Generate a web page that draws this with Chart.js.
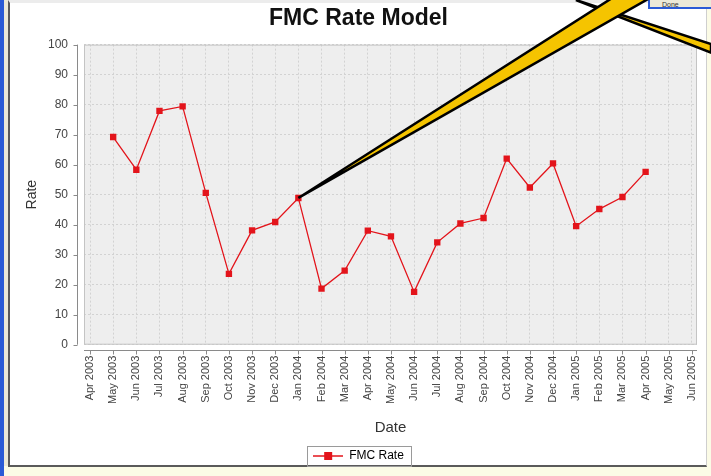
<!DOCTYPE html>
<html>
<head>
<meta charset="utf-8">
<script src="https://cdn.jsdelivr.net/npm/chart.js@4"></script>
<style>
  html, body { margin: 0; padding: 0; }
  body { width: 711px; height: 476px; position: relative; overflow: hidden; background: #fbfbe6; font-family: "Liberation Sans", Arial, sans-serif; }
  #blue { position: absolute; left: 0; top: 0; width: 4px; height: 476px; background: #2b5bd6; }
  #beige { position: absolute; left: 4px; top: 0; width: 4px; height: 466px; background: #ece9d8; }
  #panel { position: absolute; left: 8px; top: 0; width: 699px; height: 467px; background: #fff;
           border-left: 2px solid #5a5a5a; border-bottom: 2px solid #5a5a5a; border-right: 1px solid #cfcfcf; border-top: 3px solid #ececec; box-sizing: border-box; }
  #status { position: absolute; left: 648px; top: 0; width: 63px; height: 9px; background: #ece9d8;
            border-left: 2px solid #2b5bd6; border-bottom: 2px solid #2b5bd6; font-size: 7px; line-height: 9px; color: #333; padding-left: 12px; box-sizing: border-box; }
  #wrap { position: absolute; left: 0; top: 0; width: 711px; height: 476px; }
</style>
</head>
<body>
<div id="blue"></div>
<div id="beige"></div>
<div id="panel"></div>
<div id="status">Done</div>
<div id="wrap"><canvas id="rateChart" width="711" height="476"></canvas></div>
<script>
// Months on the date axis (Apr 2003 .. Jun 2005)
const months = ['Apr 2003', 'May 2003', 'Jun 2003', 'Jul 2003', 'Aug 2003', 'Sep 2003', 'Oct 2003',
    'Nov 2003', 'Dec 2003', 'Jan 2004', 'Feb 2004', 'Mar 2004', 'Apr 2004', 'May 2004', 'Jun 2004',
    'Jul 2004', 'Aug 2004', 'Sep 2004', 'Oct 2004', 'Nov 2004', 'Dec 2004', 'Jan 2005', 'Feb 2005',
    'Mar 2005', 'Apr 2005', 'May 2005', 'Jun 2005'];

// FMC Rate values, one per month (no data for Apr 2003, May 2005, Jun 2005)
const fmcRate = [null, 69.2, 58.3, 77.9, 79.4, 50.6, 23.6, 38.1, 40.9, 48.9, 18.7, 24.7, 38.0,
    36.1, 17.6, 34.1, 40.4, 42.2, 62.0, 52.4, 60.4, 39.5, 45.2, 49.2, 57.6, null, null];

const rateTicks = [0, 10, 20, 30, 40, 50, 60, 70, 80, 90, 100];

// callout arrow points at this month
const calloutMonth = 'Jan 2004';

const red = '#e3141b';
const font = '"Liberation Sans", Arial, sans-serif';

// legend marker: line with square
const legendMarker = document.createElement('canvas');
legendMarker.width = 30;
legendMarker.height = 10;
(() => {
    const c = legendMarker.getContext('2d');
    c.strokeStyle = red;
    c.lineWidth = 1.5;
    c.beginPath();
    c.moveTo(0, 5);
    c.lineTo(30, 5);
    c.stroke();
    c.fillStyle = red;
    c.fillRect(11, 1, 8, 8);
})();

const plotBackground = {
    id: 'plotBackground',
    beforeDraw(chart) {
        const { ctx, chartArea: a } = chart;
        ctx.save();
        ctx.fillStyle = '#eeeeee';
        ctx.fillRect(a.left, a.top, a.right - a.left, a.bottom - a.top);
        ctx.restore();
    },
    afterDatasetsDraw(chart) {
        const { ctx, chartArea: a, scales } = chart;
        ctx.save();
        ctx.strokeStyle = '#c4c4c4';
        ctx.lineWidth = 1;
        ctx.strokeRect(a.left + 0.5, a.top + 0.5, a.right - a.left - 1, a.bottom - a.top - 1);

        // offset axis lines with tick marks
        ctx.strokeStyle = '#8a8a8a';
        const ax = Math.round(a.left - 7) + 0.5;
        const ay = Math.round(a.bottom + 5) + 0.5;
        ctx.beginPath();
        ctx.moveTo(ax, a.top);
        ctx.lineTo(ax, a.bottom);
        scales.y.ticks.forEach(t => {
            const py = Math.round(scales.y.getPixelForValue(t.value)) + 0.5;
            ctx.moveTo(ax - 4, py);
            ctx.lineTo(ax, py);
        });
        ctx.moveTo(a.left, ay);
        ctx.lineTo(a.right, ay);
        scales.x.ticks.forEach(t => {
            const px = Math.round(scales.x.getPixelForValue(t.value)) + 0.5;
            ctx.moveTo(px, ay);
            ctx.lineTo(px, ay + 4);
        });
        ctx.stroke();

        // legend frame
        const box = chart.legend.legendHitBoxes[0];
        if (box) {
            ctx.strokeStyle = '#9a9a9a';
            ctx.strokeRect(Math.round(box.left - 6) + 0.5, Math.round(box.top + box.height / 2 - 10) + 0.5,
                Math.round(box.width + 13), 20);
        }
        ctx.restore();
    },
    afterDraw(chart) {
        // yellow callout arrow from the screenshot
        const { ctx, scales, width } = chart;
        const i = months.indexOf(calloutMonth);
        const px = scales.x.getPixelForValue(i);
        const py = scales.y.getPixelForValue(fmcRate[i]);
        ctx.save();
        ctx.lineJoin = 'miter';
        ctx.fillStyle = '#f5c400';
        ctx.strokeStyle = '#000';
        ctx.lineWidth = 2.5;
        ctx.beginPath();
        ctx.moveTo(width * 0.81, 0);
        ctx.lineTo(width, width * 0.062);
        ctx.lineTo(width, width * 0.074);
        ctx.closePath();
        ctx.fill();
        ctx.stroke();
        ctx.beginPath();
        ctx.moveTo(px, py);
        ctx.lineTo(width * 0.861, -2);
        ctx.lineTo(width * 0.914, -2);
        ctx.closePath();
        ctx.fill();
        ctx.stroke();
        ctx.restore();
    }
};

const ctx = document.getElementById('rateChart').getContext('2d');
new Chart(ctx, {
    type: 'line',
    data: {
        datasets: [{
            label: 'FMC Rate',
            data: fmcRate.map((v, i) => ({ x: i, y: v })),
            borderColor: red,
            backgroundColor: red,
            borderWidth: 1.3,
            pointStyle: 'rect',
            pointRadius: 4.5,
            pointBorderWidth: 0,
            pointBackgroundColor: red,
            tension: 0,
            spanGaps: false
        }]
    },
    options: {
        responsive: false,
        animation: false,
        events: [],
        layout: { padding: { left: 20, right: 14, top: 1, bottom: 4 } },
        plugins: {
            title: {
                display: true,
                text: 'FMC Rate Model',
                color: '#111',
                font: { family: font, size: 23, weight: 'bold' },
                padding: { top: 4, bottom: 12 }
            },
            legend: {
                position: 'bottom',
                labels: {
                    usePointStyle: true,
                    pointStyleWidth: 30,
                    color: '#222',
                    font: { family: font, size: 12 },
                    padding: 8,
                    generateLabels: () => [{
                        text: 'FMC Rate',
                        pointStyle: legendMarker,
                        fillStyle: red,
                        strokeStyle: red,
                        lineWidth: 0,
                        datasetIndex: 0
                    }]
                }
            },
            tooltip: { enabled: false }
        },
        scales: {
            x: {
                type: 'linear',
                min: -0.26,
                max: 26.22,
                afterBuildTicks: (axis) => { axis.ticks = months.map((m, i) => ({ value: i })); },
                // labels stay inside the frame, no extra side padding needed
                afterFit: (scale) => { scale.paddingLeft = 0; scale.paddingRight = 0; },
                title: {
                    display: true,
                    text: 'Date',
                    color: '#333',
                    font: { family: font, size: 15 },
                    padding: { top: 4, bottom: 5 }
                },
                ticks: {
                    autoSkip: false,
                    minRotation: 90,
                    maxRotation: 90,
                    padding: 11,
                    color: '#444',
                    font: { family: font, size: 11 },
                    callback: (v) => months[v]
                },
                grid: { color: '#d2d2d2', drawTicks: false },
                border: { display: false, dash: [2, 2] }
            },
            y: {
                min: 0,
                max: 100,
                afterBuildTicks: (axis) => { axis.ticks = rateTicks.map(v => ({ value: v })); },
                afterFit: (scale) => { scale.width = 64; },
                title: {
                    display: true,
                    text: 'Rate',
                    color: '#333',
                    font: { family: font, size: 14 },
                    padding: { top: 4, bottom: 4 }
                },
                ticks: {
                    padding: 16,
                    color: '#444',
                    font: { family: font, size: 12 }
                },
                grid: { color: '#d2d2d2', drawTicks: false },
                border: { display: false, dash: [2, 2] }
            }
        }
    },
    plugins: [plotBackground]
});
</script>
</body>
</html>
